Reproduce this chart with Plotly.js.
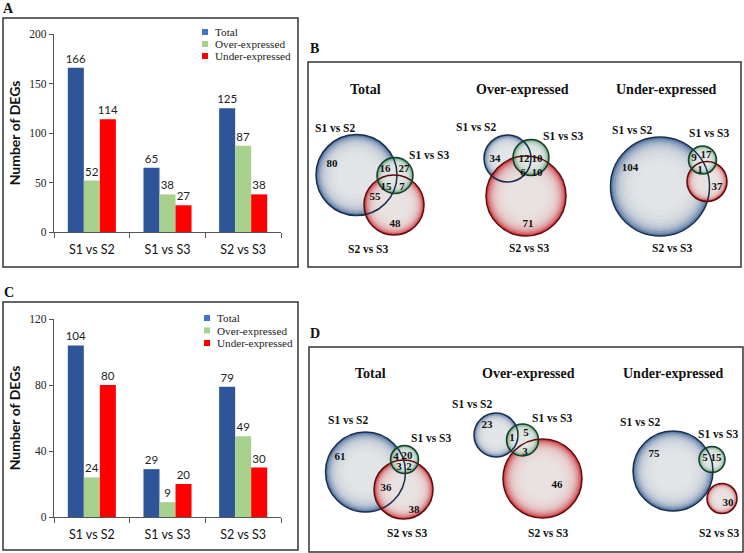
<!DOCTYPE html>
<html><head><meta charset="utf-8">
<script src="https://cdn.plot.ly/plotly-3.0.1.min.js"></script>
<style>html,body{margin:0;padding:0;background:#fff}#chart{width:744px;height:553px}</style>
</head><body><div id="chart"></div>
<script>
// ---------- data ----------
const categories = ['S1 vs S2', 'S1 vs S3', 'S2 vs S3'];
const seriesNames = ['Total', 'Over-expressed', 'Under-expressed'];
const totalA = [166, 65, 125];
const overA = [52, 38, 87];
const underA = [114, 27, 38];
const totalC = [104, 29, 79];
const overC = [24, 9, 49];
const underC = [80, 20, 30];
const yTicksA = [0, 50, 100, 150, 200];
const yTicksC = [0, 40, 80, 120];
const vennSets = ['S1 vs S2', 'S1 vs S3', 'S2 vs S3'];
const vennTitles = ['Total', 'Over-expressed', 'Under-expressed'];
const vennB_total = [80, 16, 27, 15, 7, 55, 48];
const vennB_over = [34, 12, 10, 6, 10, 71];
const vennB_under = [104, 9, 17, 1, 37];
const vennD_total = [61, 4, 20, 3, 2, 36, 38];
const vennD_over = [23, 1, 5, 3, 46];
const vennD_under = [75, 5, 15, 30];

// ---------- layout geometry (pixel space of overlay axis) ----------
const W = 744, H = 553;
const serif = 'Liberation Serif, Times New Roman, serif';
const sans = 'Lato, Open Sans, sans-serif';
const barColors = ['#2e5597', '#a9d18e', '#ff0000'];
const legendSwatch = ['#4472c4', '#a9d18e', '#ff0000'];

const vennGeo = [
  {title: [365, 89], counts: vennB_total,
   circles: [[356.5, 175, 40.5], [395, 175.5, 18], [394, 205, 30]],
   labels: [[335, 128], [429, 155], [368, 249]],
   pos: [[332, 164], [385, 169], [404, 169], [386, 187], [402, 187], [375, 197], [395, 224]]},
  {title: [522, 89], counts: vennB_over,
   circles: [[507.5, 158.5, 23.5], [531, 157.5, 18], [526, 196, 40]],
   labels: [[476, 127], [563, 136], [529, 248]],
   pos: [[495, 159], [524, 159], [537, 159], [523, 173], [537, 173], [528, 224]]},
  {title: [666, 89], counts: vennB_under,
   circles: [[660, 186.5, 49.5], [702.5, 160, 14], [707, 181.5, 20]],
   labels: [[632, 130], [709, 133], [672, 248]],
   pos: [[630, 168], [694, 158], [706, 155], [700, 170], [717, 187]]},
  {title: [370, 373], counts: vennD_total,
   circles: [[365.5, 472, 40], [404.5, 459.5, 14], [403.5, 489.5, 29.5]],
   labels: [[348, 420], [431, 438], [407, 533]],
   pos: [[340, 457], [396, 457], [407, 456], [399, 467], [409, 467], [386, 488], [414, 510]]},
  {title: [528, 373], counts: vennD_over,
   circles: [[496, 435, 22], [522.5, 440, 16], [542.5, 478.5, 39.5]],
   labels: [[472, 404], [552, 418], [548, 533]],
   pos: [[487, 425], [512, 438], [526, 433], [525, 452], [557, 485]]},
  {title: [673, 373], counts: vennD_under,
   circles: [[673, 471, 40], [712, 459.5, 13], [722, 498.5, 15]],
   labels: [[640, 422], [718, 434], [719, 533]],
   pos: [[654, 454], [705, 458], [716, 458], [728, 503]]}
];
const circleStyle = [
  {edge: [58, 96, 148], line: '#1a2f4c'},   // S1 vs S2 (blue)
  {edge: [52, 138, 88], line: '#183f28'},   // S1 vs S3 (green)
  {edge: [200, 32, 36], line: '#5e0c0d'}    // S2 vs S3 (red)
];
const drawOrder = [0, 2, 1];

// ---------- traces ----------
const traces = [];
function barSet(vals, xa, ya) {
  vals.forEach((v, i) => {
    traces.push({
      type: 'bar', x: categories, y: v, name: seriesNames[i],
      xaxis: xa, yaxis: ya, marker: {color: barColors[i]},
      text: v.map(String), textposition: 'outside', constraintext: 'none',
      textfont: {family: sans, size: 11.5, color: '#222'}, cliponaxis: false,
      showlegend: false, hoverinfo: 'x+y+name'
    });
  });
}
barSet([totalA, overA, underA], 'x', 'y');
barSet([totalC, overC, underC], 'x2', 'y2');

// venn counts as text traces on pixel overlay axis
vennGeo.forEach(g => {
  traces.push({
    type: 'scatter', mode: 'text', xaxis: 'x3', yaxis: 'y3',
    x: g.pos.map(p => p[0]), y: g.pos.map(p => p[1]),
    text: g.counts.map(String), textposition: 'middle center',
    textfont: {family: serif, size: 11, color: '#111', weight: 'bold'},
    cliponaxis: false, showlegend: false, hoverinfo: 'skip'
  });
});

// ---------- shapes ----------
const shapes = [];
const annotations = [];
function rect(x0, y0, x1, y1) {
  shapes.push({type: 'rect', xref: 'x3', yref: 'y3', x0, y0, x1, y1,
    line: {color: '#333', width: 1.5}, fillcolor: 'rgba(0,0,0,0)', layer: 'below'});
}
rect(3, 18, 298, 267);
rect(3, 302, 298, 550);
rect(308, 62, 741, 267);
rect(309, 347, 743, 552);

const grayFr = [0.95, 0.9, 0.85, 0.8, 0.74, 0.67, 0.58, 0.48];
vennGeo.forEach(g => {
  drawOrder.forEach(k => {
    const [cx, cy, r] = g.circles[k];
    const e = circleStyle[k].edge;
    shapes.push({type: 'circle', xref: 'x3', yref: 'y3', x0: cx - r, x1: cx + r, y0: cy - r, y1: cy + r,
      fillcolor: `rgba(${e[0]},${e[1]},${e[2]},0.82)`, line: {width: 0}, layer: 'below'});
    grayFr.forEach(f => {
      const rr = r * f;
      shapes.push({type: 'circle', xref: 'x3', yref: 'y3', x0: cx - rr, x1: cx + rr, y0: cy - rr, y1: cy + rr,
        fillcolor: 'rgba(236,236,236,0.3)', line: {width: 0}, layer: 'below'});
    });
  });
  drawOrder.forEach(k => {
    const [cx, cy, r] = g.circles[k];
    shapes.push({type: 'circle', xref: 'x3', yref: 'y3', x0: cx - r, x1: cx + r, y0: cy - r, y1: cy + r,
      fillcolor: 'rgba(0,0,0,0)', line: {color: circleStyle[k].line, width: 1.5}, layer: 'below'});
  });
});

// manual legends
function legend(x, rows) {
  seriesNames.forEach((n, i) => {
    shapes.push({type: 'rect', xref: 'x3', yref: 'y3', x0: x - 3, x1: x + 3, y0: rows[i] - 3, y1: rows[i] + 3,
      fillcolor: legendSwatch[i], line: {width: 0}});
    annotations.push({xref: 'x3', yref: 'y3', x: x + 8, y: rows[i], text: n, showarrow: false,
      xanchor: 'left', yanchor: 'middle', font: {family: serif, size: 11.2, color: '#222'}});
  });
}
legend(205, [32, 44, 56]);
legend(207, [318, 330.5, 343]);

// panel letters
[['A', 8.5, 8], ['C', 8.5, 292], ['B', 314, 48], ['D', 315, 333]].forEach(([t, x, y]) => {
  annotations.push({xref: 'x3', yref: 'y3', x, y, text: t, showarrow: false,
    font: {family: serif, size: 14, color: '#111', weight: 'bold'}});
});

// venn titles and set labels
vennGeo.forEach((g, gi) => {
  annotations.push({xref: 'x3', yref: 'y3', x: g.title[0], y: g.title[1], text: vennTitles[gi % 3],
    showarrow: false, font: {family: serif, size: 14, color: '#111', weight: 'bold'}});
  g.labels.forEach((p, k) => {
    annotations.push({xref: 'x3', yref: 'y3', x: p[0], y: p[1], text: vennSets[k], showarrow: false,
      font: {family: serif, size: 11.5, color: '#111', weight: 'bold'}});
  });
});

// ---------- axes ----------
function xAx(domain, anchor) {
  return {domain, anchor, type: 'category', range: [-0.5, 2.5], tickson: 'boundaries',
    ticks: 'outside', ticklen: 5, tickcolor: '#555', showline: true, linecolor: '#555', linewidth: 1.2,
    showgrid: false, zeroline: false, automargin: false, fixedrange: true, ticklabelstandoff: 6,
    tickfont: {family: sans, size: 12.5, color: '#111'}};
}
function yAx(domain, anchor, range, ticks) {
  return {domain, anchor, range, tickvals: ticks, ticktext: ticks.map(String),
    ticks: 'outside', ticklen: 4, tickcolor: '#555', showline: true, linecolor: '#555', linewidth: 1.2,
    showgrid: false, zeroline: false, automargin: false, fixedrange: true,
    tickfont: {family: serif, size: 11.5, color: '#222'},
    title: {text: 'Number of DEGs', standoff: 5, font: {family: sans, size: 14, color: '#111', weight: 'bold'}}};
}
const xd = [54 / W, 281 / W];
const layout = {
  width: W, height: H, margin: {l: 0, r: 0, t: 0, b: 0},
  paper_bgcolor: '#fff', plot_bgcolor: 'rgba(0,0,0,0)',
  barmode: 'group', bargap: 0.365, bargroupgap: 0, showlegend: false,
  xaxis: xAx(xd, 'y'),
  yaxis: yAx([(H - 232) / H, (H - 34) / H], 'x', [0, 200], yTicksA),
  xaxis2: xAx(xd, 'y2'),
  yaxis2: yAx([(H - 517) / H, (H - 319) / H], 'x2', [0, 120], yTicksC),
  xaxis3: {domain: [0, 1], anchor: 'y3', range: [0, W], visible: false, fixedrange: true},
  yaxis3: {domain: [0, 1], anchor: 'x3', range: [H, 0], visible: false, fixedrange: true},
  shapes, annotations
};
Plotly.newPlot('chart', traces, layout, {displayModeBar: false, staticPlot: true});
</script>
</body></html>
